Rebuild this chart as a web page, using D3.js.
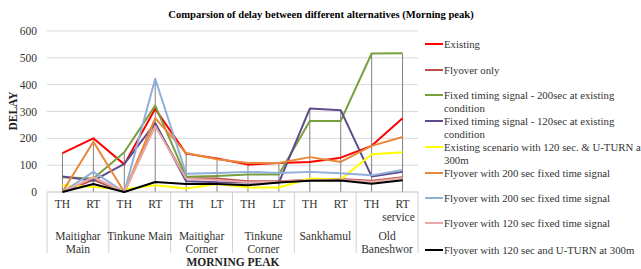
<!DOCTYPE html>
<html><head><meta charset="utf-8">
<script src="https://cdn.jsdelivr.net/npm/d3@7"></script>
<style>body{margin:0;background:#fff}svg{display:block}</style>
</head><body><svg id="c" width="641" height="269"></svg>
<script>
const subLabels = ["TH","RT","TH","RT","TH","LT","TH","LT","TH","RT","TH","RT"];
const groups = [["Maitighar","Main"],["Tinkune Main"],["Maitighar","Corner"],["Tinkune","Corner"],["Sankhamul"],["Old","Baneshwor"]];
const yTicks = [0,100,200,300,400,500,600];
const seriesNames = ["Existing","Flyover only","Fixed timing signal - 200sec at existing condition","Fixed timing signal - 120sec at existing condition","Existing scenario with 120 sec. & U-TURN at 300m","Flyover with 200 sec fixed time signal","Flyover with 200 sec fixed time signal","Flyover with 120 sec fixed time signal","Flyover with 120 sec and U-TURN at 300m"];
const legendLines = [["Existing"],["Flyover only"],["Fixed timing signal - 200sec at existing","condition"],["Fixed timing signal - 120sec at existing","condition"],["Existing scenario with 120 sec. & U-TURN at","300m"],["Flyover with 200 sec fixed time signal"],["Flyover with 200 sec fixed time signal"],["Flyover with 120 sec fixed time signal"],["Flyover with 120 sec and U-TURN at 300m"]];
const colors = ["#FF0000","#C0504D","#77A03C","#604A8B","#FFFF00","#E8883A","#8FAFDA","#E6A9A8","#000000"];
const existing      = [145,200,103,310,143,125,102,108,112,128,172,275];
const flyoverOnly   = [0,45,0,250,52,50,40,40,46,48,42,55];
const fixed200      = [55,50,148,322,57,60,65,65,265,265,516,517];
const fixed120      = [58,42,105,257,40,36,35,35,311,305,58,75];
const existingUturn = [25,19,10,25,13,30,17,17,50,47,141,148];
const flyover200    = [0,187,0,275,145,122,108,108,130,112,172,205];
const flyover200b   = [0,75,0,422,68,71,75,71,75,70,62,82];
const flyover120    = [0,55,0,245,50,45,36,38,44,46,38,52];
const flyoverUturn  = [0,30,0,37,30,30,25,35,42,43,31,44];
const seriesValues = [existing,flyoverOnly,fixed200,fixed120,existingUturn,flyover200,flyover200b,flyover120,flyoverUturn];

const FONT = "Liberation Serif";
const svg = d3.select("#c");
const L=47,R=418,T=31,B=192;
const idx = d3.range(subLabels.length);
const x = d3.scaleBand().domain(idx).range([L,R]).padding(0);
const cx = i => x(i)+x.bandwidth()/2;
const y = d3.scaleLinear().domain([0,600]).range([B,T]);
const txt = (sel) => sel.attr("font-family",FONT);

svg.append("g").selectAll("line").data(yTicks.filter(d=>d>0)).join("line")
  .attr("x1",L).attr("x2",R).attr("y1",d=>y(d)).attr("y2",d=>y(d))
  .attr("stroke","#D9D9D9").attr("stroke-width",1);
svg.append("g").selectAll("text").data(yTicks).join("text").call(txt)
  .attr("x",37).attr("y",d=>y(d)+4).attr("text-anchor","end")
  .attr("font-size",11.5).attr("fill","#333").text(d=>d);
svg.append("g").selectAll("line").data(idx).join("line")
  .attr("x1",cx).attr("x2",cx).attr("y1",B).attr("y2",i=>y(d3.max(seriesValues,s=>s[i])))
  .attr("stroke","#808080").attr("stroke-width",1);
svg.append("line").attr("x1",L).attr("x2",R).attr("y1",B).attr("y2",B).attr("stroke","#BFBFBF");
const groupBounds = [0,2,4,6,8,10,12];
svg.append("g").selectAll("line").data(groupBounds).join("line")
  .attr("x1",i=>i<12?x(i):R).attr("x2",i=>i<12?x(i):R).attr("y1",B).attr("y2",253)
  .attr("stroke","#D0D0D0").attr("stroke-width",1);

const line = d3.line().x((d,i)=>cx(i)).y(d=>y(d));
svg.append("g").selectAll("path").data(seriesValues).join("path")
  .attr("d",d=>line(d)).attr("fill","none").attr("stroke",(d,i)=>colors[i]).attr("stroke-width",2).attr("stroke-linejoin","round");

svg.append("g").selectAll("text").data(subLabels).join("text").call(txt)
  .attr("x",(d,i)=>cx(i)).attr("y",208).attr("text-anchor","middle").attr("font-size",11.5).attr("fill","#333").text(d=>d);
svg.append("text").call(txt).attr("x",cx(11)-4).attr("y",221).attr("text-anchor","middle").attr("font-size",11.5).attr("fill","#333").text("service");
groups.forEach((g,k)=>{
  const gx = (x(k*2)+x(k*2+1)+x.bandwidth())/2;
  g.forEach((t,j)=>svg.append("text").call(txt).attr("x",gx).attr("y",240+j*12.5).attr("text-anchor","middle").attr("font-size",11.5).attr("fill","#333").text(t));
});
svg.append("text").call(txt).attr("x",233).attr("y",266).attr("text-anchor","middle").attr("font-size",11.5).attr("font-weight","bold").attr("fill","#222").text("MORNING PEAK");
svg.append("text").call(txt).attr("transform","translate(17,111) rotate(-90)").attr("text-anchor","middle").attr("font-size",11.5).attr("font-weight","bold").attr("fill","#222").text("DELAY");
svg.append("text").call(txt).attr("x",321).attr("y",18).attr("text-anchor","middle").attr("font-size",10.6).attr("font-weight","bold").attr("fill","#000").text("Comparsion of delay between different alternatives (Morning peak)");

const legY = [44,70,95,121,147,173,198,223,250];
const lg = svg.append("g").selectAll("g").data(seriesNames).join("g").attr("transform",(d,i)=>`translate(425,${legY[i]})`);
lg.append("line").attr("x1",0).attr("x2",18).attr("y1",0).attr("y2",0).attr("stroke",(d,i)=>colors[i]).attr("stroke-width",2);
lg.each(function(d,i){
  legendLines[i].forEach((t,j)=>d3.select(this).append("text").call(txt).attr("x",19).attr("y",4+j*13).attr("font-size",10.8).attr("fill","#333").text(t));
});
</script></body></html>
